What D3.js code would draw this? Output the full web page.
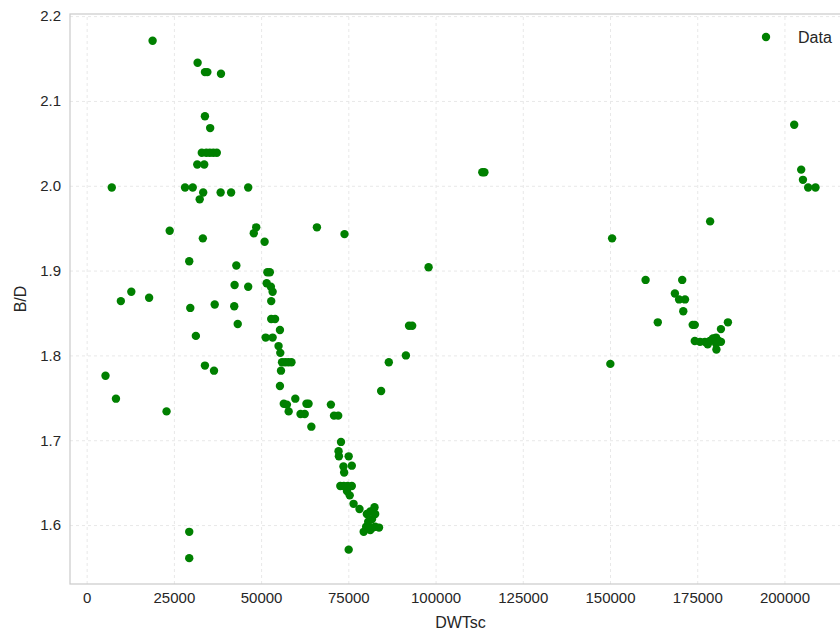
<!DOCTYPE html>
<html>
<head>
<meta charset="utf-8">
<script src="https://cdn.jsdelivr.net/npm/d3@7"></script>
<style>
  body { margin: 0; background: #fff; }
  svg text { font-family: "Liberation Sans", Arial, sans-serif; fill: #262626; }
</style>
</head>
<body>
<script>
'use strict';

// DWTsc / B/D values
const dwt = [
  5400, 7200, 8400, 9800, 12800, 17900, 18900, 22900, 23800, 28200, 30400,
  29400, 29700, 29400, 29400, 31300, 31800, 31700, 33700, 32400, 33400, 33300,
  33900, 33900, 34600, 33900, 35400, 36500, 36700,
  33000, 34300, 35300, 36300, 37300,
  38500, 38400, 41400, 42400, 42300, 42900, 43300, 46300, 46300, 47900, 48600,
  51000, 51800, 52500, 51600, 52800, 53300, 52900, 52900, 54000, 51300, 53300,
  55400, 55000, 55500, 56000, 56900, 57800, 58700, 55700, 55400,
  56500, 57400, 59800, 63000, 63600, 57900, 61300, 62500, 64400, 66000,
  70000, 70900, 72100, 73900, 72900, 72200, 72300, 75100, 73600, 76000, 73800,
  72700, 73700, 74800, 76000, 74600, 75400, 76500, 78200, 82500,
  80300, 81300, 82700, 81800, 80700, 82700, 80100, 81300, 79400, 80700, 82000, 83800,
  75100, 84400, 86600, 91500, 92400, 93300, 98000, 113400, 114000,
  150100, 150600, 160200, 163700, 168600, 169800, 171500, 170700, 171000,
  173700, 174300, 178700, 183800, 181800,
  174300, 175800, 177200, 178600, 179500, 180400, 181200, 178000, 180400, 181800,
  180500, 202800, 204800, 205300, 206800, 208900
];
const bd = [
  1.776, 1.998, 1.749, 1.864, 1.875, 1.868, 2.171, 1.734, 1.947, 1.998, 1.998,
  1.911, 1.856, 1.592, 1.561, 1.823, 2.145, 2.025, 2.025, 1.984, 1.992, 1.938,
  2.082, 2.134, 2.134, 1.788, 2.068, 1.782, 1.860,
  2.039, 2.039, 2.039, 2.039, 2.039,
  2.132, 1.992, 1.992, 1.883, 1.858, 1.906, 1.837, 1.881, 1.998, 1.944, 1.951,
  1.934, 1.898, 1.898, 1.885, 1.881, 1.875, 1.864, 1.843, 1.843, 1.821, 1.821,
  1.830, 1.811, 1.803, 1.792, 1.792, 1.792, 1.792, 1.782, 1.764,
  1.743, 1.742, 1.749, 1.743, 1.743, 1.734, 1.731, 1.731, 1.716, 1.951,
  1.742, 1.729, 1.729, 1.943, 1.698, 1.687, 1.681, 1.681, 1.669, 1.670, 1.662,
  1.646, 1.646, 1.646, 1.646, 1.640, 1.635, 1.625, 1.619, 1.621,
  1.613, 1.616, 1.613, 1.607, 1.604, 1.598, 1.598, 1.594, 1.592, 1.597, 1.597, 1.597,
  1.571, 1.758, 1.792, 1.800, 1.835, 1.835, 1.904, 2.016, 2.016,
  1.790, 1.938, 1.889, 1.839, 1.873, 1.866, 1.866, 1.889, 1.852,
  1.836, 1.836, 1.958, 1.839, 1.831,
  1.817, 1.816, 1.816, 1.817, 1.820, 1.821, 1.817, 1.813, 1.814, 1.816,
  1.807, 2.072, 2.019, 2.007, 1.998, 1.998
];

const xTicks = [0, 25000, 50000, 75000, 100000, 125000, 150000, 175000, 200000];
const yTicks = [1.6, 1.7, 1.8, 1.9, 2.0, 2.1, 2.2];
const seriesName = 'Data';

const W = 840, H = 632;
const m = { left: 70, right: 851, top: 14, bottom: 584 };

const svg = d3.select('body').append('svg')
  .attr('width', W)
  .attr('height', H);

const x = d3.scaleLinear().domain([-4775, 219075]).range([m.left, m.right]);
const y = d3.scaleLinear().domain([1.5305, 2.2025]).range([m.bottom, m.top]);

// grid lines
svg.append('g')
  .attr('transform', 'translate(0,' + m.bottom + ')')
  .call(d3.axisBottom(x).tickValues(xTicks).tickSize(-(m.bottom - m.top)).tickFormat(''))
  .call(g => g.select('.domain').remove())
  .call(g => g.selectAll('line').attr('stroke', '#e8e8e8').attr('stroke-dasharray', '3,3'));

svg.append('g')
  .attr('transform', 'translate(' + m.left + ',0)')
  .call(d3.axisLeft(y).tickValues(yTicks).tickSize(-(m.right - m.left)).tickFormat(''))
  .call(g => g.select('.domain').remove())
  .call(g => g.selectAll('line').attr('stroke', '#e8e8e8').attr('stroke-dasharray', '3,3'));

// tick labels
svg.append('g')
  .attr('transform', 'translate(0,' + m.bottom + ')')
  .call(d3.axisBottom(x).tickValues(xTicks).tickSize(0).tickPadding(8).tickFormat(d3.format('d')))
  .call(g => g.select('.domain').remove())
  .call(g => g.selectAll('text').style('font-size', '15px').attr('fill', '#262626'));

svg.append('g')
  .attr('transform', 'translate(' + m.left + ',0)')
  .call(d3.axisLeft(y).tickValues(yTicks).tickSize(0).tickPadding(9).tickFormat(d3.format('.1f')))
  .call(g => g.select('.domain').remove())
  .call(g => g.selectAll('text').style('font-size', '15px').attr('fill', '#262626'));

// frame
svg.append('rect')
  .attr('x', m.left)
  .attr('y', m.top)
  .attr('width', m.right - m.left)
  .attr('height', m.bottom - m.top)
  .attr('fill', 'none')
  .attr('stroke', '#cccccc')
  .attr('stroke-width', 1.25);

// points
const pts = dwt.map((d, i) => ({ x: d, y: bd[i] }));
svg.append('g')
  .selectAll('circle')
  .data(pts)
  .enter()
  .append('circle')
    .attr('cx', d => x(d.x))
    .attr('cy', d => y(d.y))
    .attr('r', 4.2)
    .attr('fill', '#008000');

// axis labels
svg.append('text')
  .attr('x', (m.left + m.right) / 2)
  .attr('y', 628)
  .attr('text-anchor', 'middle')
  .style('font-size', '16px')
  .text('DWTsc');

svg.append('text')
  .attr('transform', 'translate(26,' + ((m.top + m.bottom) / 2) + ')rotate(-90)')
  .attr('text-anchor', 'middle')
  .style('font-size', '16px')
  .text('B/D');

// legend
svg.append('circle')
  .attr('cx', 766)
  .attr('cy', 37)
  .attr('r', 4.2)
  .attr('fill', '#008000');

svg.append('text')
  .attr('x', 798)
  .attr('y', 43)
  .style('font-size', '16px')
  .text(seriesName);
</script>
</body>
</html>
